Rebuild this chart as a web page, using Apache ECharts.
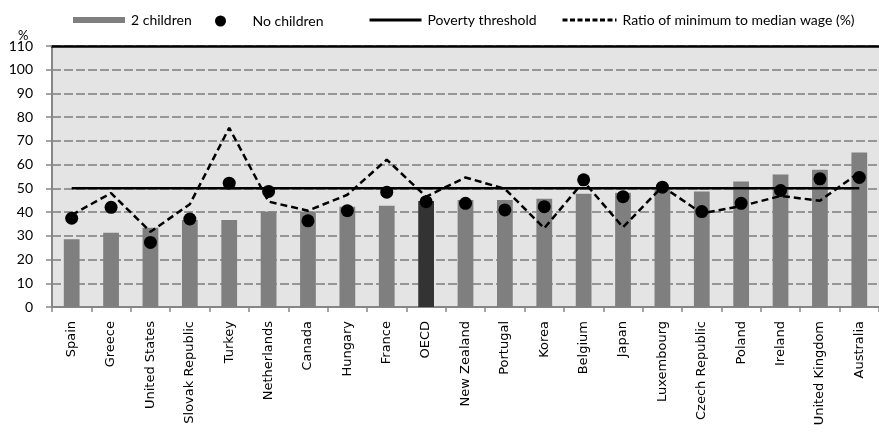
<!DOCTYPE html>
<html>
<head>
<meta charset="utf-8">
<script src="https://cdn.jsdelivr.net/npm/echarts@6/dist/echarts.min.js"></script>
<style>
  html, body { margin: 0; padding: 0; background: #ffffff; }
  #chart { width: 879px; height: 435px; }
</style>
</head>
<body>
<div id="chart"></div>
<script>
// Countries along the horizontal axis
const categories = ['Spain', 'Greece', 'United States', 'Slovak Republic', 'Turkey', 'Netherlands',
  'Canada', 'Hungary', 'France', 'OECD', 'New Zealand', 'Portugal', 'Korea', 'Belgium', 'Japan',
  'Luxembourg', 'Czech Republic', 'Poland', 'Ireland', 'United Kingdom', 'Australia'];

// Household with 2 children (bars), % of median income
const twoChildren = [28.6, 31.3, 33.4, 36.7, 36.7, 40.3, 40.2, 42.3, 42.7, 44.7, 45.1,
  45.1, 45.6, 47.7, 48.2, 49.5, 48.7, 52.9, 55.8, 57.8, 65.1];

// Household with no children (dots)
const noChildren = [37.4, 42.0, 27.2, 37.1, 52.2, 48.7, 36.3, 40.6, 48.4, 44.4, 43.7,
  40.9, 42.3, 53.6, 46.5, 50.5, 40.2, 43.7, 49.1, 54.0, 54.6];

// Poverty threshold (solid line)
const povertyThreshold = [50, 50, 50, 50, 50, 50, 50, 50, 50, 50, 50,
  50, 50, 50, 50, 50, 50, 50, 50, 50, 50];

// Ratio of minimum to median wage, % (dashed line)
const minToMedian = [38.8, 48.0, 31.7, 43.3, 75.5, 44.4, 40.6, 47.3, 62.1, 46.5, 54.6,
  49.8, 33.2, 52.9, 33.6, 50.8, 39.5, 42.5, 46.8, 44.8, 56.7];

// Y axis ticks
const yMin = 0, yMax = 110, yStep = 10;

const barColor = '#7f7f7f';
const highlightColor = '#333333';
const axisGray = '#868686';
const numFont = 'Lato, "Liberation Sans", sans-serif';
const catFont = '"DejaVu Sans", Verdana, sans-serif';

const barData = twoChildren.map((v, i) => (
  categories[i] === 'OECD' ? { value: v, itemStyle: { color: highlightColor } } : v
));

const legendText = { fontFamily: numFont, fontSize: 14, color: '#000', padding: [0, 0, 0, 1] };
// line-only legend keys: hide the default marker drawn in the middle of the key
const hiddenMarker = { opacity: 0 };

const chart = echarts.init(document.getElementById('chart'), null, { renderer: 'canvas' });
chart.setOption({
  animation: false,
  backgroundColor: '#ffffff',
  title: {
    text: '%', left: 13, top: 24,
    textStyle: { fontFamily: numFont, fontSize: 13, fontWeight: 'normal', color: '#000' }
  },
  legend: [
    { data: [{ name: '2 children', icon: 'path://M0,0h52v6h-52z' }], left: 68, top: 8,
      itemWidth: 52, itemHeight: 14, textStyle: legendText },
    { data: [{ name: 'No children', icon: 'circle' }], left: 210, top: 9,
      itemWidth: 52, itemHeight: 11, textStyle: legendText },
    { data: [{ name: 'Poverty threshold', itemStyle: hiddenMarker,
               lineStyle: { width: 3, type: 'solid', color: '#000' } }], left: 363, top: 8,
      itemWidth: 52, itemHeight: 14, textStyle: legendText },
    { data: [{ name: 'Ratio of minimum to median wage (%)', itemStyle: hiddenMarker,
               lineStyle: { width: 3, type: [5, 2.5], color: '#000' } }], left: 556, top: 8,
      itemWidth: 54, itemHeight: 14, textStyle: legendText }
  ],
  grid: {
    left: 52, right: 0, top: 46, bottom: 128,
    show: true, backgroundColor: '#e4e4e4', borderWidth: 0
  },
  xAxis: [
    {
      type: 'category', data: categories, position: 'bottom',
      axisLine: { lineStyle: { color: axisGray, width: 2 } },
      axisTick: { show: true, length: 5, lineStyle: { color: axisGray, width: 1.5 } },
      axisLabel: {
        rotate: 90, margin: 14, interval: 0,
        fontFamily: catFont, fontSize: 13, color: '#000'
      }
    },
    {
      type: 'category', data: categories, position: 'top',
      axisLine: { lineStyle: { color: '#000', width: 2.5 } },
      axisTick: { show: false }, axisLabel: { show: false }
    }
  ],
  yAxis: {
    type: 'value', min: yMin, max: yMax, interval: yStep,
    axisLine: { show: true, lineStyle: { color: axisGray, width: 2 } },
    axisTick: { show: true, length: 6, lineStyle: { color: axisGray, width: 1.5 } },
    axisLabel: { margin: 19, fontFamily: numFont, fontSize: 14, color: '#000' },
    splitLine: { show: true, lineStyle: { color: '#969696', width: 2, type: [9, 3] } }
  },
  series: [
    {
      name: '2 children', type: 'bar', data: barData, barWidth: '40%',
      itemStyle: { color: barColor }
    },
    {
      name: 'Poverty threshold', type: 'line', data: povertyThreshold,
      symbol: 'none', lineStyle: { color: '#000', width: 2.5, type: 'solid' },
      itemStyle: { color: '#000' }
    },
    {
      name: 'Ratio of minimum to median wage (%)', type: 'line', data: minToMedian,
      symbol: 'none', lineStyle: { color: '#000', width: 2.5, type: [7, 4] },
      itemStyle: { color: '#000' }
    },
    {
      name: 'No children', type: 'scatter', data: noChildren,
      symbol: 'circle', symbolSize: 13, itemStyle: { color: '#000', opacity: 1 }
    }
  ]
});
</script>
</body>
</html>
